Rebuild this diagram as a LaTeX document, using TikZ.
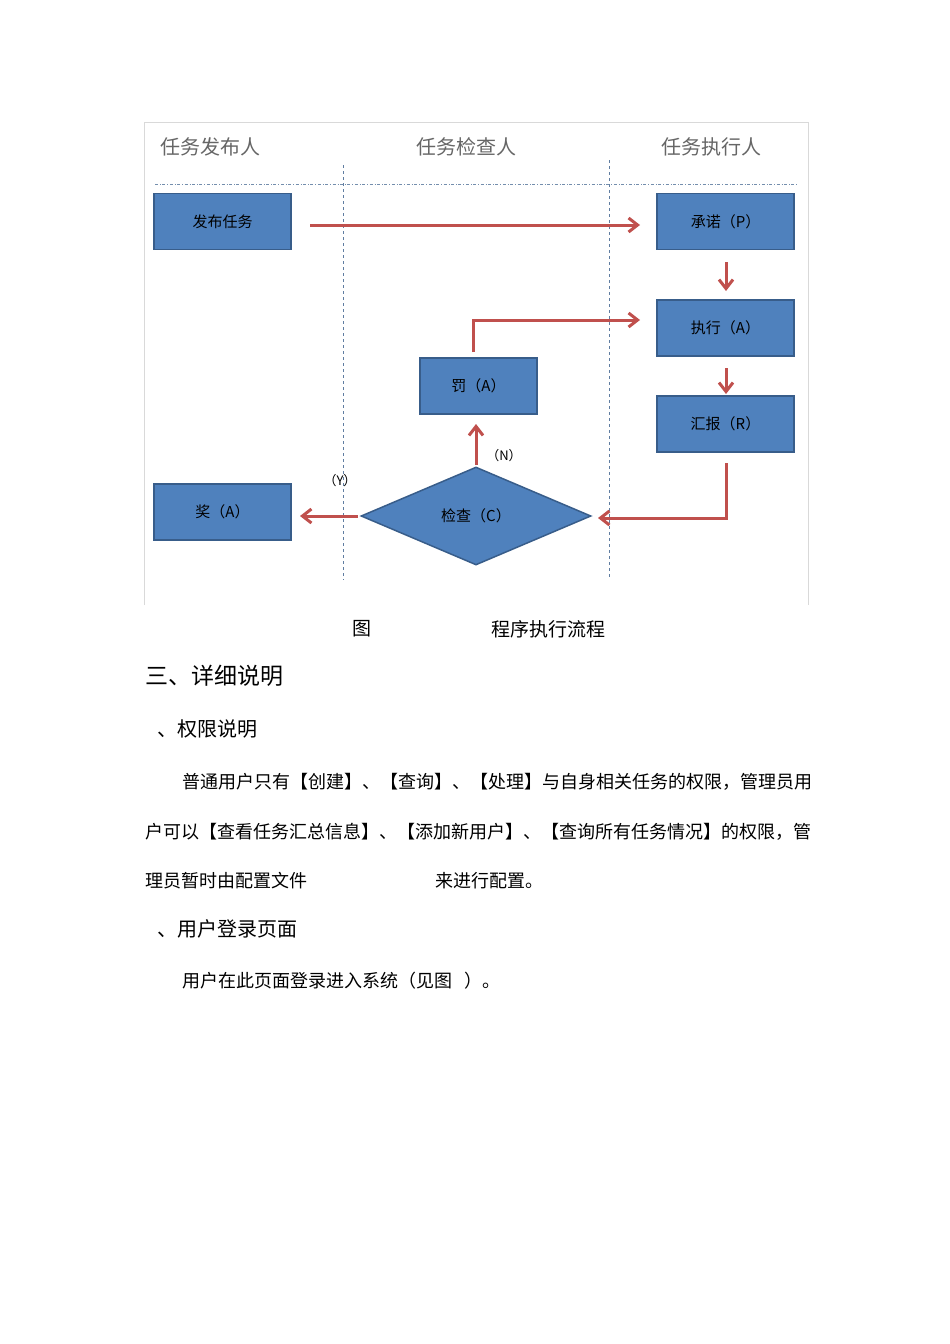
\documentclass[tikz,border=0pt]{standalone}
\usepackage{fontspec}
\setmainfont{Noto Sans CJK SC}
\usetikzlibrary{shapes.geometric,arrows.meta}
\definecolor{bx}{HTML}{4F81BD}
\definecolor{bd}{HTML}{385D8A}
\definecolor{ar}{HTML}{C0504D}
\begin{document}
\begin{tikzpicture}[x=1pt,y=-1pt,
 box/.style={draw=bd,line width=1.5pt,fill=bx,minimum width=137pt,minimum height=56pt,inner sep=0,font=\fontsize{15}{15}\selectfont},
 arr/.style={draw=ar,line width=3pt,-{Straight Barb[length=9pt,width=14pt]}},
 hd/.style={text=gray!80!black,font=\fontsize{20}{20}\selectfont},
 lbl/.style={font=\fontsize{13}{13}\selectfont},
 body/.style={anchor=west,font=\fontsize{18}{18}\selectfont,inner sep=0}]
\useasboundingbox[fill=white] (0,0) rectangle (950,1344);
\draw[gray!30] (144,605) -- (144,122) -- (808,122) -- (808,605);
\node[hd] (h1) at (210,147) {任务发布人};
\node[hd] (h2) at (466,147) {任务检查人};
\node[hd] (h3) at (711,147) {任务执行人};
\draw[bd!70,dash dot] (155,184) -- (797,184);
\draw[bd!80,dashed] (343,165) -- (343,580);
\draw[bd!80,dashed] (609,160) -- (609,578);
\node[box] (fb) at (222.5,221.5) {发布任务};
\node[box] (cn) at (725.5,221.5) {承诺（P）};
\node[box] (zx) at (725.5,328) {执行（A）};
\node[box] (hb) at (725.5,424) {汇报（R）};
\node[box,minimum width=117pt] (fa) at (478.5,386) {罚（A）};
\node[box] (jl) at (222.5,512) {奖（A）};
\node[diamond,draw=bd,line width=1.5pt,fill=bx,minimum width=230pt,minimum height=98pt,inner sep=0,aspect=2.3,font=\fontsize{15}{15}\selectfont] (jc) at (476,516) {检查（C）};
\coordinate (a1) at (310,225); \coordinate (a2) at (640,225);
\draw[arr] (a1) -- (a2);
\draw[arr] (726,262) -- (726,291);
\draw[arr] (726,368) -- (726,394);
\draw[arr] (726,463) -- (726,518) -- (598,518);
\draw[arr] (473,352) -- (473,320) -- (640,320);
\draw[arr] (476,465) -- (476,424);
\draw[arr] (358,516) -- (300,516);
\node[lbl] (n) at (504,456) {（N）};
\node[lbl] (y) at (340,481) {（Y）};
\node[body,anchor=center,font=\fontsize{19}{19}\selectfont] (c1) at (362,629) {图};
\node[body,anchor=center,font=\fontsize{19}{19}\selectfont] (c2) at (548,629) {程序执行流程};
\node[body,font=\fontsize{23}{23}\selectfont] (t1) at (145,676) {三、详细说明};
\node[body,font=\fontsize{20}{20}\selectfont] (t2) at (157,729) {、权限说明};
\node[body] (p1) at (182,782) {普通用户只有【创建】、【查询】、【处理】与自身相关任务的权限，管理员用};
\node[body] (p2) at (145,832) {户可以【查看任务汇总信息】、【添加新用户】、【查询所有任务情况】的权限，管};
\node[body] (p3) at (145,881) {理员暂时由配置文件};
\node[body] (p4) at (435,881) {来进行配置。};
\node[body,font=\fontsize{20}{20}\selectfont] (t3) at (157,929) {、用户登录页面};
\node[body] (p5) at (182,981) {用户在此页面登录进入系统（见图\hspace{12pt}）。};
\end{tikzpicture}
\end{document}
